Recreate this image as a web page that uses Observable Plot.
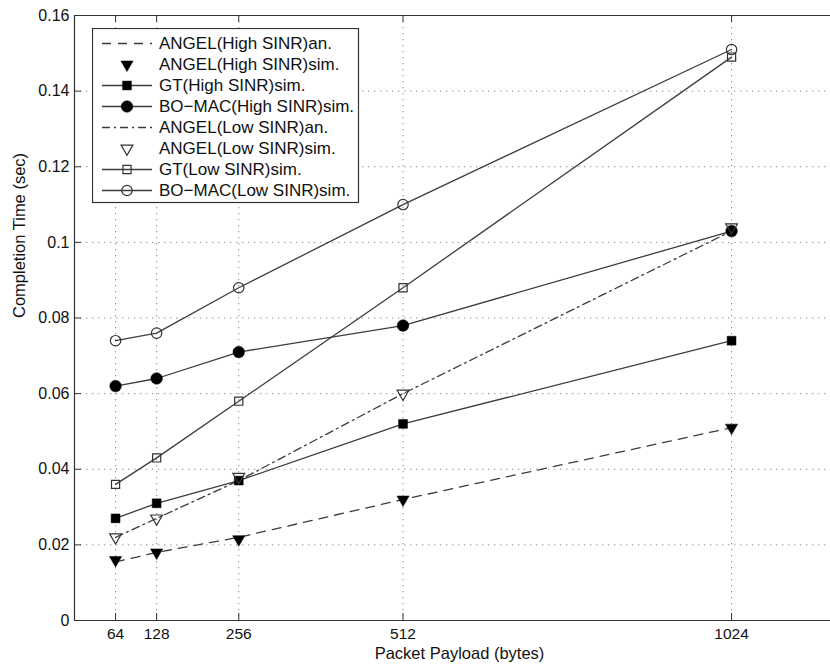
<!DOCTYPE html>
<html><head><meta charset="utf-8">
<script src="https://cdn.jsdelivr.net/npm/d3@7"></script>
<script src="https://cdn.jsdelivr.net/npm/@observablehq/plot@0.6"></script>
<style>
body{margin:0;background:#fff;}
#wrap{position:relative;width:830px;height:668px;overflow:hidden;background:#fff;}
#legend{position:absolute;left:92px;top:28px;}
</style>
</head><body><div id="wrap"></div>
<script>
// x categories (bytes)
const payload = [64, 128, 256, 512, 1024];
// series values (sec)
const angelHighAn  = [0.0155, 0.018, 0.022, 0.032, 0.051];
const angelHighSim = [0.016, 0.018, 0.0215, 0.032, 0.051];
const gtHigh       = [0.027, 0.031, 0.037, 0.052, 0.074];
const bomacHigh    = [0.062, 0.064, 0.071, 0.078, 0.103];
const angelLowAn   = [0.022, 0.027, 0.037, 0.060, 0.103];
const angelLowSim  = [0.022, 0.027, 0.038, 0.060, 0.104];
const gtLow        = [0.036, 0.043, 0.058, 0.088, 0.149];
const bomacLow     = [0.074, 0.076, 0.088, 0.110, 0.151];
const seriesNames = [
  "ANGEL(High SINR)an.", "ANGEL(High SINR)sim.", "GT(High SINR)sim.", "BO\u2212MAC(High SINR)sim.",
  "ANGEL(Low SINR)an.", "ANGEL(Low SINR)sim.", "GT(Low SINR)sim.", "BO\u2212MAC(Low SINR)sim."
];
const yTicks = [0, 0.02, 0.04, 0.06, 0.08, 0.1, 0.12, 0.14, 0.16];
const yTickLabels = ["0", "0.02", "0.04", "0.06", "0.08", "0.1", "0.12", "0.14", "0.16"];
const xLabel = "Packet Payload (bytes)";
const yLabel = "Completion Time (sec)";

const triDown = {
  draw(ctx, size) {
    const s = Math.sqrt(size) * 1.15, h = s * 0.866;
    ctx.moveTo(-s / 2, -h / 3); ctx.lineTo(s / 2, -h / 3); ctx.lineTo(0, 2 * h / 3); ctx.closePath();
  }
};
const rows = a => payload.map((x, i) => ({x, y: a[i]}));

const lineCol = "#3c3c3c", axisCol = "#333";
const FONT = "'Liberation Sans', Arial, Helvetica, sans-serif";
const series = [
  {v: angelHighAn,  dash: "9,7",      sym: null},
  {v: angelHighSim, dash: null,       sym: triDown,  fill: true,  r: 6},
  {v: gtHigh,       dash: "",         sym: "square", fill: true,  r: 5},
  {v: bomacHigh,    dash: "",         sym: "circle", fill: true,  r: 5.8},
  {v: angelLowAn,   dash: "8,4,2,4",  sym: null},
  {v: angelLowSim,  dash: null,       sym: triDown,  fill: false, r: 5.8},
  {v: gtLow,        dash: "",         sym: "square", fill: false, r: 4.6},
  {v: bomacLow,     dash: "",         sym: "circle", fill: false, r: 5.2}
];

const W = 830, H = 668, mL = 74, mR = -14, mT = 15, mB = 48;
const plotW = W - mL - mR, plotH = H - mT - mB;

const marks = [
  Plot.gridX(payload, {stroke: "#8a8a8a", strokeOpacity: 1, strokeDasharray: "1.3,4.7"}),
  Plot.gridY(yTicks.slice(1, -1), {stroke: "#8a8a8a", strokeOpacity: 1, strokeDasharray: "1.3,4.7"}),
  Plot.tickX(payload, {x: d => d, stroke: axisCol, insetTop: plotH - 7}),
  Plot.tickX(payload, {x: d => d, stroke: axisCol, insetBottom: plotH - 7}),
  Plot.tickY(yTicks, {y: d => d, stroke: axisCol, insetRight: plotW - 7}),
  Plot.ruleY([0], {stroke: axisCol, strokeWidth: 1.2}),
  Plot.ruleY([0.16], {stroke: axisCol, strokeWidth: 1.2}),
  Plot.ruleX([0], {stroke: axisCol, strokeWidth: 1.2}),
  Plot.axisX({ticks: payload, tickSize: 0, tickPadding: 7, tickFormat: d => String(d), fontSize: 15.5, label: null, color: "#111"}),
  Plot.axisY({ticks: yTicks, tickSize: 0, tickPadding: 5, tickFormat: d => yTickLabels[yTicks.indexOf(d)], fontSize: 16, label: null, color: "#111"}),
  Plot.text([xLabel], {text: d => d, frameAnchor: "bottom", dy: 38, fontSize: 16.5, fill: "#111"}),
  Plot.text([yLabel], {text: d => d, frameAnchor: "left", dx: -55, rotate: -90, fontSize: 16.5, fill: "#111"})
];
for (const s of series) {
  if (s.dash !== null) marks.push(Plot.line(rows(s.v), {x: "x", y: "y", stroke: lineCol, strokeWidth: 1.3, strokeDasharray: s.dash || null}));
}
for (const s of series) {
  if (s.sym) marks.push(Plot.dot(rows(s.v), {x: "x", y: "y", symbol: s.sym, r: s.r,
    fill: s.fill ? "#000" : "none", stroke: s.fill ? "#000" : "#333", strokeWidth: s.fill ? 0.5 : 1.2}));
}

const chart = Plot.plot({
  width: W, height: H, marginLeft: mL, marginRight: mR, marginTop: mT, marginBottom: mB,
  style: {fontFamily: FONT, background: "#fff", overflow: "hidden"},
  x: {domain: [0, 1200]},
  y: {domain: [0, 0.16]},
  marks
});
const wrap = document.getElementById("wrap");
wrap.appendChild(chart);

// legend overlay
const lw = 266, lh = 174;
const lg = d3.select(wrap).append("svg").attr("id", "legend").attr("width", lw + 2).attr("height", lh + 2)
  .style("font-family", FONT);
lg.append("rect").attr("x", 0.5).attr("y", 0.5).attr("width", lw).attr("height", lh)
  .attr("fill", "#fff").attr("stroke", axisCol).attr("stroke-width", 1.2);
series.forEach((s, i) => {
  const y = 15.5 + i * 21;
  const g = lg.append("g");
  if (s.dash !== null) g.append("line").attr("x1", 10).attr("x2", 60).attr("y1", y).attr("y2", y)
    .attr("stroke", lineCol).attr("stroke-width", 1.3).attr("stroke-dasharray", s.dash || null);
  if (s.sym) {
    const sym = s.sym === "square" ? d3.symbolSquare : s.sym === "circle" ? d3.symbolCircle : s.sym;
    g.append("path").attr("d", d3.symbol(sym, Math.PI * s.r * s.r)()).attr("transform", `translate(35,${y})`)
      .attr("fill", s.fill ? "#000" : "none").attr("stroke", s.fill ? "#000" : "#333").attr("stroke-width", s.fill ? 0.5 : 1.2);
  }
  g.append("text").attr("x", 67).attr("y", y).attr("dy", "0.35em").attr("font-size", 17).attr("fill", "#111").text(seriesNames[i]);
});
</script>
</body></html>
